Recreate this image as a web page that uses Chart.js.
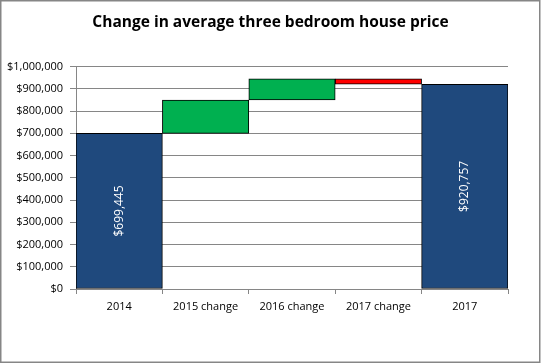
<!DOCTYPE html>
<html>
<head>
<meta charset="utf-8">
<script src="https://cdn.jsdelivr.net/npm/chart.js@4"></script>
<style>
  html, body { margin: 0; padding: 0; background: #fff; }
  canvas { display: block; }
</style>
</head>
<body>
<canvas id="houseChart" width="541" height="363"></canvas>
<script>
const categories = ["2014", "2015 change", "2016 change", "2017 change", "2017"];
const startPrice = 699445;
const yearChanges = [150555, 95000, -24243];
const endPrice = 920757;

// build floating ranges for the waterfall
const ranges = [[0, startPrice]];
const colours = ["#1f497d"];
let running = startPrice;
yearChanges.forEach(c => {
  ranges.push([running, running + c]);
  colours.push(c >= 0 ? "#00b050" : "#ff0000");
  running += c;
});
ranges.push([0, endPrice]);
colours.push("#1f497d");

const money = v => "$" + Number(v).toLocaleString("en-US");
const gridGrey = "#868686";

const totalLabels = {
  id: "totalLabels",
  afterDatasetsDraw(chart) {
    const ctx = chart.ctx;
    const meta = chart.getDatasetMeta(0);
    [0, ranges.length - 1].forEach(i => {
      const bar = meta.data[i];
      const val = ranges[i][1] - ranges[i][0];
      ctx.save();
      ctx.translate(bar.x, (bar.y + bar.base) / 2);
      ctx.rotate(-Math.PI / 2);
      ctx.fillStyle = "#fff";
      ctx.font = "12px 'Open Sans'";
      ctx.textAlign = "center";
      ctx.textBaseline = "middle";
      ctx.fillText(money(val), 0, 0);
      ctx.restore();
    });
  }
};

const frame = {
  id: "frame",
  beforeDraw(chart) {
    const ctx = chart.ctx;
    ctx.save();
    ctx.fillStyle = "#fff";
    ctx.fillRect(0, 0, chart.width, chart.height);
    ctx.restore();
  },
  afterDraw(chart) {
    const ctx = chart.ctx;
    ctx.save();
    ctx.strokeStyle = gridGrey;
    ctx.lineWidth = 1.5;
    ctx.strokeRect(0.75, 0.75, chart.width - 2, chart.height - 1.5);
    ctx.restore();
  }
};

const ctx = document.getElementById("houseChart").getContext("2d");
new Chart(ctx, {
  type: "bar",
  data: {
    labels: categories,
    datasets: [{
      data: ranges,
      backgroundColor: colours,
      borderColor: "#000",
      borderWidth: 1,
      borderSkipped: false,
      barPercentage: 1,
      categoryPercentage: 1
    }]
  },
  options: {
    responsive: false,
    animation: false,
    layout: { padding: 0 },
    plugins: {
      legend: { display: false },
      tooltip: { enabled: false },
      title: {
        display: true,
        text: "Change in average three bedroom house price",
        color: "#000",
        font: { family: "Open Sans", size: 15.5, weight: "bold" },
        padding: { top: 13, bottom: 35 }
      }
    },
    scales: {
      y: {
        min: 0,
        max: 1000000,
        ticks: {
          stepSize: 100000,
          callback: v => money(v),
          color: "#000",
          font: { family: "Open Sans", size: 11 },
          padding: 7
        },
        grid: { color: gridGrey, tickLength: 6 },
        border: { color: gridGrey },
        afterFit: s => { s.width = 76; }
      },
      // empty right axis, only keeps room on the right so the title stays centred
      spacer: {
        position: "right",
        ticks: { display: false },
        grid: { display: false, drawTicks: false },
        border: { display: false },
        afterFit: s => { s.width = 33; }
      },
      x: {
        ticks: {
          color: "#000",
          font: { family: "Open Sans", size: 11 },
          padding: 6
        },
        grid: { offset: true, drawOnChartArea: false, color: gridGrey, tickLength: 5 },
        border: { color: gridGrey },
        afterFit: s => { s.height = 74; }
      }
    }
  },
  plugins: [frame, totalLabels]
});
</script>
</body>
</html>
